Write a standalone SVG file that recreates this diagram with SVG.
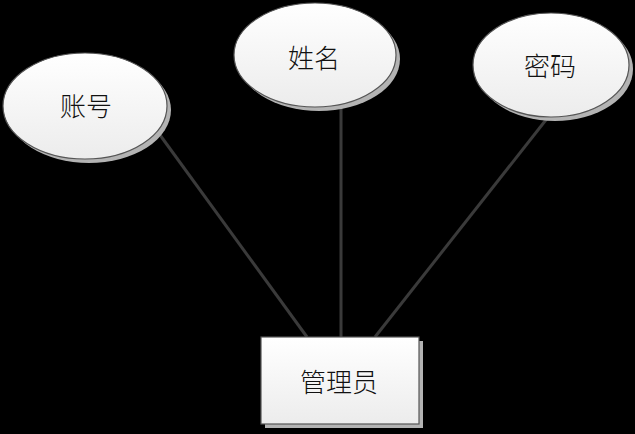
<svg xmlns="http://www.w3.org/2000/svg" width="635" height="434" viewBox="0 0 635 434">
<defs>
<linearGradient id="g" x1="0" y1="0" x2="0" y2="1">
<stop offset="0" stop-color="#ffffff"/>
<stop offset="1" stop-color="#ececec"/>
</linearGradient>
<style>
.shape{fill:url(#g);stroke:#555;stroke-width:1.2}
.shadow{fill:#b3b3b3}
.lbl{font-family:"Noto Sans CJK SC","Noto Sans",sans-serif;font-size:26px;font-weight:300;fill:#111;text-anchor:middle;dominant-baseline:central}
.conn{stroke:#3a3a3a;stroke-width:3;fill:none}
</style>
</defs>
<rect width="635" height="434" fill="#000"/>
<g id="connectors">
<line class="conn" x1="160" y1="135" x2="307" y2="337"/>
<line class="conn" x1="341" y1="106" x2="341" y2="337"/>
<line class="conn" x1="549" y1="116" x2="375" y2="337"/>
</g>
<g id="node-account">
<ellipse class="shadow" cx="89" cy="110" rx="82" ry="53"/>
<ellipse class="shape" cx="85" cy="106" rx="82" ry="53"/>
<text class="lbl" x="86" y="104">账号</text>
</g>
<g id="node-name">
<ellipse class="shadow" cx="319" cy="59" rx="81" ry="52"/>
<ellipse class="shape" cx="315" cy="55" rx="81" ry="52"/>
<text class="lbl" x="314" y="56">姓名</text>
</g>
<g id="node-password">
<ellipse class="shadow" cx="555" cy="69" rx="78" ry="52"/>
<ellipse class="shape" cx="551" cy="65" rx="78" ry="52"/>
<text class="lbl" x="550" y="64">密码</text>
</g>
<g id="node-admin">
<rect class="shadow" x="265" y="341" width="158" height="87"/>
<rect class="shape" x="261" y="337" width="158" height="87"/>
<text class="lbl" x="339" y="380">管理员</text>
</g>
</svg>
